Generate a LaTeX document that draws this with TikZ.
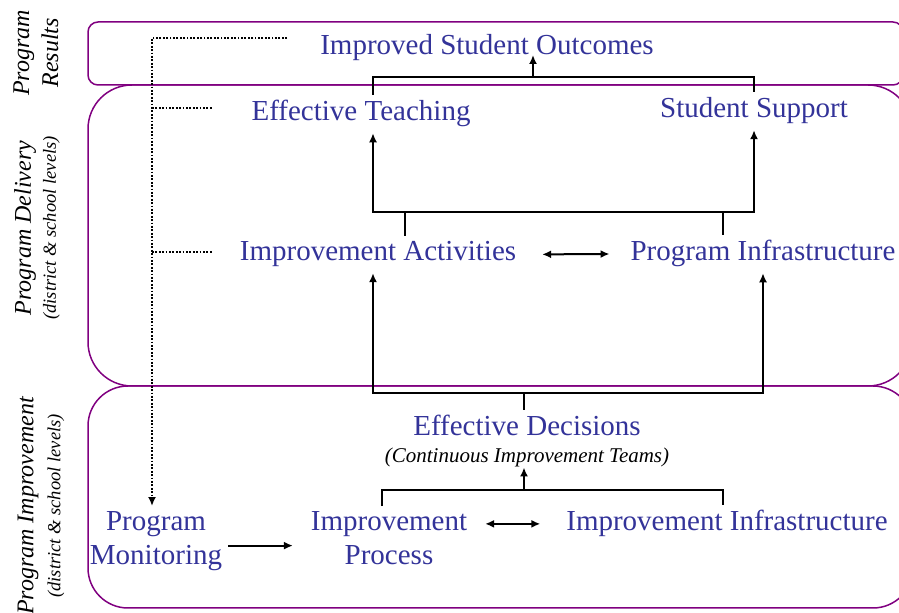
\documentclass[tikz,border=0pt]{standalone}
\usepackage{fontspec}
\setmainfont{Liberation Serif}
\usepackage{xcolor}
\usetikzlibrary{arrows.meta, positioning}
\definecolor{txtblue}{HTML}{333399}
\definecolor{boxpurple}{HTML}{800080}

\begin{document}
\begin{tikzpicture}[x=0.5pt, y=-0.5pt,
    box/.style={draw=boxpurple, line width=0.75pt},
    lbl/.style={text=txtblue, font=\fontsize{14.5}{17}\selectfont, inner sep=0pt, outer sep=3pt, anchor=base},
    sub/.style={font=\fontsize{10.5}{12}\selectfont\itshape, inner sep=0pt, outer sep=0pt, anchor=base},
    side/.style={rotate=90, align=center, inner sep=0pt, font=\fontsize{12}{14.5}\selectfont\itshape},
    line/.style={line width=1pt},
    arr/.style={line width=1pt, -{Latex[length=4.5pt, width=4pt]}},
    twoway/.style={line width=1pt, {Latex[length=4.5pt, width=4pt]}-{Latex[length=4.5pt, width=4pt]}},
    dots/.style={line width=0.9pt, dash pattern=on 0.9pt off 0.8pt}]
    \useasboundingbox (0,0) rectangle (899,613);
    \clip (0,0) rectangle (899,613);
    % Cajas
    \draw[box, rounded corners=5pt] (88,22) rectangle (903,85);
    \draw[box, rounded corners=22pt] (88,85) rectangle (912,386);
    \draw[box, rounded corners=20pt] (88,386) rectangle (913,608);
    % Etiquetas laterales
    \node[side] (resTag) at (36,53) {Program\\Results};
    \node[side] (delTag) at (37,228) {Program Delivery\\[-2pt]{\fontsize{9.25}{11}\selectfont (district \& school levels)}};
    \node[side] (impTag) at (41,506) {Program Improvement\\[-1pt]{\fontsize{9.25}{11}\selectfont (district \& school levels)}};
    % Textos
    \node[lbl] (outcomes) at (487,55) {Improved Student Outcomes};
    \node[lbl] (teach) at (361,121) {Effective Teaching};
    \node[lbl] (support) at (754,118) {Student Support};
    \node[lbl] (activ) at (378,261) {Improvement Activities};
    \node[lbl] (pinfra) at (763,261) {Program Infrastructure};
    \node[lbl] (decide) at (527,436) {Effective Decisions};
    \node[sub] (teams) at (527,463) {(Continuous Improvement Teams)};
    \node[lbl, align=center] (monitor) at (156,565) {Program\\Monitoring};
    \node[lbl, align=center] (process) at (389,565) {Improvement\\Process};
    \node[lbl] (iinfra) at (727,531) {Improvement Infrastructure};
    % Puntos de apoyo
    \coordinate (colL) at (373,0);
    \coordinate (colR) at (754,0);
    \coordinate (colR2) at (763,0);
    \coordinate (topmid) at (533,77);
    \coordinate (midbar) at (560,212);
    \coordinate (stubA) at (405,212);
    \coordinate (stubB) at (723,212);
    \coordinate (lowbar) at (524,393);
    \coordinate (botmid) at (524,490);
    \coordinate (pL) at (382,0);
    \coordinate (pR) at (723,0);
    % Resultados
    \draw[line] (teach.north -| colL) |- (topmid) -| (support.north -| colR);
    \draw[arr] (topmid) -- (outcomes.base -| topmid);
    % Entrega
    \draw[twoway] (teach.south -| colL) -- (midbar -| colL) -- (midbar -| colR) -- (support.south -| colR);
    \draw[line] (activ.north -| stubA) -- (stubA);
    \draw[line] (pinfra.north -| stubB) -- (stubB);
    \draw[twoway, shorten <=10pt, shorten >=7.5pt] (activ.east) -- (pinfra.west);
    \draw[twoway] (activ.south -| colL) -- (lowbar -| colL) -- (lowbar -| colR2) -- (pinfra.south -| colR2);
    % Mejora
    \draw[line] (decide.north -| lowbar) -- (lowbar);
    \draw[line] (process.north -| pL) |- (botmid) -| (iinfra.north -| pR);
    \draw[arr] (botmid) -- (teams.south -| botmid);
    \draw[twoway, shorten <=6pt, shorten >=10pt] (process.east |- iinfra.east) -- (iinfra.west);
    \draw[arr, shorten >=6pt] ([yshift=-2pt]monitor.east) -- ([yshift=-2pt]monitor.east -| process.west);
    % Seguimiento
    \coordinate (dtop) at (152,38);
    \coordinate (dres) at (287,38);
    \coordinate (dteach) at (212,108);
    \coordinate (dact) at (212,252);
    \draw[dots, -{Latex[length=4.5pt, width=4pt]}] (dres) -- (dtop) -- (monitor.north -| dtop);
    \draw[dots] (dtop |- dteach) -- (dteach);
    \draw[dots] (dtop |- dact) -- (dact);
\end{tikzpicture}
\end{document}
